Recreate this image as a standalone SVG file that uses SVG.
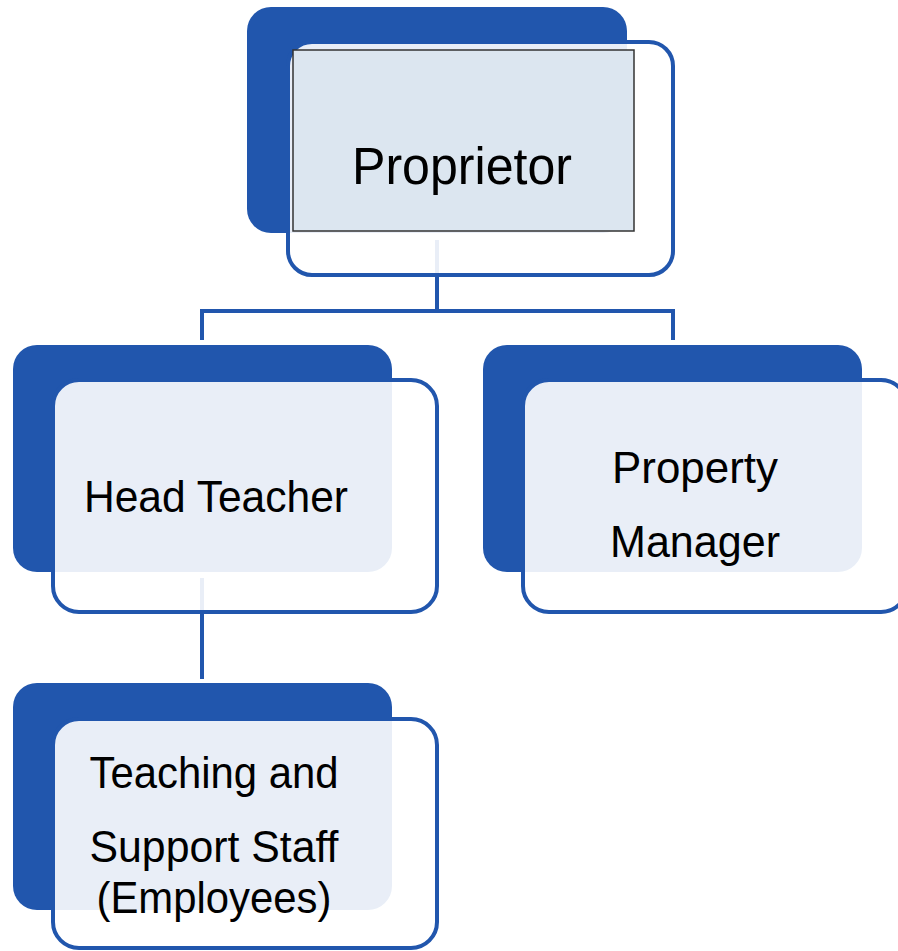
<svg xmlns="http://www.w3.org/2000/svg" width="898" height="951" viewBox="0 0 898 951">
<style>
.back{fill:#2156ad}
.front{fill:#ffffff;fill-opacity:0.9;stroke:#2156ad;stroke-width:4}
.conn{fill:none;stroke:#2156ad;stroke-width:4}
.lbl{font-family:"Liberation Sans",Arial,sans-serif;fill:#000;text-anchor:middle;font-size:44px}
</style>
<rect width="898" height="951" fill="#ffffff"/>
<g id="connectors">
<path class="conn" d="M437,240 V311 M202,340 V311 H673 V340"/>
<path class="conn" d="M202,578 V679"/>
</g>
<g id="proprietor">
<rect class="back" x="247" y="7" width="380" height="226" rx="24"/>
<rect class="front" x="288" y="42" width="385" height="233" rx="24"/>
<rect x="293" y="50" width="341" height="181" fill="#dce6f0" stroke="#333" stroke-width="1.5"/>
<text class="lbl" x="462" y="184" style="font-size:51px" textLength="220" lengthAdjust="spacingAndGlyphs">Proprietor</text>
</g>
<g id="head-teacher">
<rect class="back" x="13" y="345" width="379" height="227" rx="24"/>
<rect class="front" x="53" y="380" width="384" height="232" rx="26"/>
<text class="lbl" x="216" y="512" textLength="264" lengthAdjust="spacingAndGlyphs">Head Teacher</text>
</g>
<g id="property-manager">
<rect class="back" x="483" y="345" width="379" height="227" rx="24"/>
<rect class="front" x="523" y="380" width="384" height="232" rx="26"/>
<text class="lbl" x="695" y="483" textLength="166" lengthAdjust="spacingAndGlyphs">Property</text>
<text class="lbl" x="695" y="557" textLength="170" lengthAdjust="spacingAndGlyphs">Manager</text>
</g>
<g id="teaching-staff">
<rect class="back" x="13" y="683" width="379" height="227" rx="24"/>
<rect class="front" x="53" y="719" width="384" height="229" rx="26"/>
<text class="lbl" x="214" y="788" textLength="249" lengthAdjust="spacingAndGlyphs">Teaching and</text>
<text class="lbl" x="214" y="862" textLength="249" lengthAdjust="spacingAndGlyphs">Support Staff</text>
<text class="lbl" x="214" y="913" textLength="235" lengthAdjust="spacingAndGlyphs">(Employees)</text>
</g>
</svg>
